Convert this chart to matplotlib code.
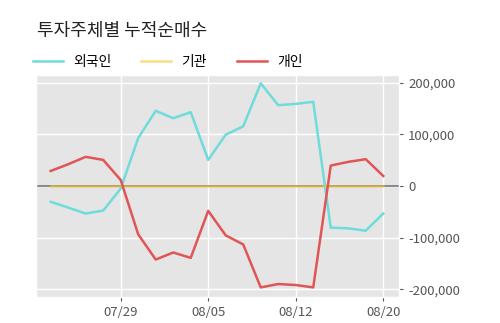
import matplotlib
matplotlib.use("Agg")
import matplotlib.pyplot as plt
from matplotlib.ticker import FuncFormatter

plt.style.use("ggplot")
plt.rcParams['font.family'] = ['Noto Sans CJK KR', 'DejaVu Sans']

dates = ['07/23', '07/24', '07/25', '07/26', '07/29', '07/30', '07/31', '08/01', '08/02', '08/05',
         '08/06', '08/07', '08/08', '08/09', '08/12', '08/13', '08/14', '08/16', '08/19', '08/20']
foreign = [-30500, -41600, -53200, -47400, -5000, 92900, 145500, 131200, 142900, 50600,
           99400, 115600, 198700, 156500, 159000, 163000, -80500, -81800, -86400, -53200]
inst = [0] * 20
retail = [29200, 42200, 56500, 50600, 11700, -93500, -142200, -128600, -139000, -48000,
          -95500, -113000, -196100, -189600, -191500, -196100, 39600, 46800, 52000, 19500]
tick_labels = ['07/29', '08/05', '08/12', '08/20']

fig = plt.figure(figsize=(5, 3.23), dpi=100)
ax = fig.add_axes([0.072, 0.08, 0.726, 0.688])

x = list(range(len(dates)))
ax.axhline(0, color='#777777', lw=1.2, zorder=2)
ax.plot(x, foreign, color='#6fdcdc', lw=1.8, label='외국인', zorder=3)
ax.plot(x, inst, color='#f5c832', lw=1.8, alpha=0.6, label='기관', zorder=3)
ax.plot(x, retail, color='#e05555', lw=1.8, label='개인', zorder=3)

ax.set_xlim(-0.84, 19.9)
ax.set_ylim(-215000, 215000)
ax.set_yticks([-200000, -100000, 0, 100000, 200000])
ax.yaxis.set_major_formatter(FuncFormatter(lambda v, p: f'{int(v):,}'))
ax.yaxis.tick_right()
ax.set_xticks([dates.index(d) for d in tick_labels])
ax.set_xticklabels(tick_labels)
ax.tick_params(axis='both', colors='#555555', labelsize=9.5, length=3)
ax.grid(True, color='white', lw=1)

fig.text(0.074, 0.905, '투자주체별 누적순매수', fontsize=13, color='#222222', va='center')
fig.legend(loc='center left', bbox_to_anchor=(0.066, 0.808), ncol=3, frameon=False,
           fontsize=10, handlelength=2.15, columnspacing=2.15, handletextpad=0.75,
           borderpad=0, borderaxespad=0)

fig.savefig('out.png', dpi=100)
